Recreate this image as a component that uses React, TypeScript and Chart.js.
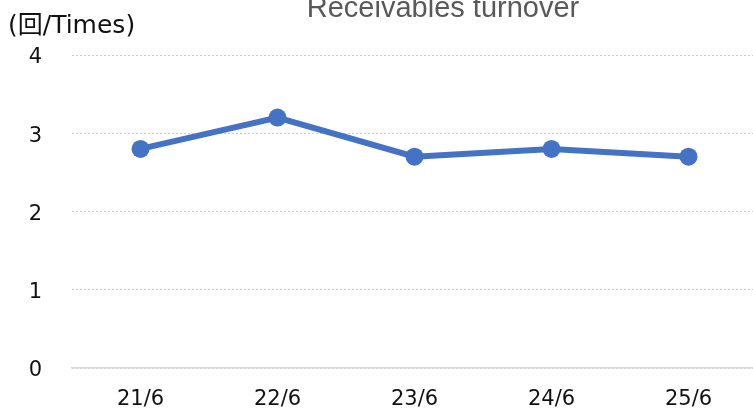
import React, { useEffect, useRef } from "react";
import { Chart, registerables } from "chart.js";

Chart.register(...registerables);

const categories = ["21/6", "22/6", "23/6", "24/6", "25/6"];
const turnover = [2.8, 3.2, 2.7, 2.8, 2.7];
const titleText = "Receivables turnover";
const unitLabel = "(回/Times)";
const yMin = 0;
const yMax = 4;
const yStep = 1;

const W = 757;
const H = 409;

const textPlugin = {
  id: "texts",
  afterDraw(chart: any) {
    const ctx = chart.ctx;
    ctx.save();
    ctx.fillStyle = "#595959";
    ctx.font = '29px "Liberation Sans", Arial, sans-serif';
    ctx.textAlign = "center";
    ctx.textBaseline = "alphabetic";
    ctx.fillText(titleText, 443, 17);
    ctx.fillStyle = "#111111";
    ctx.font = '25px "DejaVu Sans", "Noto Sans CJK JP", sans-serif';
    ctx.textAlign = "left";
    ctx.fillText(unitLabel, 8, 33);
    ctx.restore();
  },
};

export default function App() {
  const ref = useRef<HTMLCanvasElement | null>(null);
  useEffect(() => {
    document.body.style.margin = "0";
    document.body.style.overflow = "hidden";
    const chart = new Chart(ref.current as HTMLCanvasElement, {
      type: "line",
      data: {
        labels: categories,
        datasets: [
          {
            data: turnover,
            borderColor: "#4472C4",
            backgroundColor: "#4472C4",
            borderWidth: 6,
            pointRadius: 9,
            pointBackgroundColor: "#4472C4",
            pointBorderColor: "#4472C4",
            pointBorderWidth: 0,
            tension: 0,
            clip: false,
          },
        ],
      },
      options: {
        responsive: false,
        animation: false,
        devicePixelRatio: 1,
        layout: { autoPadding: false, padding: { top: 55, right: 0, bottom: 0, left: 0 } },
        plugins: { legend: { display: false }, title: { display: false }, tooltip: { enabled: false } },
        scales: {
          x: {
            offset: true,
            grid: { display: false, drawTicks: false },
            border: { display: true, color: "#d9d9d9", width: 1.5 },
            ticks: {
              color: "#111111",
              padding: 19,
              font: { family: '"DejaVu Sans", sans-serif', size: 21 },
            },
            afterFit: (s: any) => {
              s.height = 41;
              s.paddingLeft = 0;
              s.paddingRight = 0;
            },
          },
          y: {
            min: yMin,
            max: yMax,
            grid: { color: "#cccccc", lineWidth: 1, drawTicks: false },
            border: { display: false, dash: [2, 2] },
            ticks: {
              stepSize: yStep,
              color: "#111111",
              padding: 30,
              labelOffset: 3,
              font: { family: '"DejaVu Sans", sans-serif', size: 21 },
            },
            afterFit: (s: any) => {
              s.width = 72;
              s.paddingTop = 0;
              s.paddingBottom = 0;
            },
          },
        },
      },
      plugins: [textPlugin],
    });
    return () => chart.destroy();
  }, []);
  return (
    <div style={{ position: "fixed", left: 0, top: 0, width: W, height: H, background: "#fff" }}>
      <canvas ref={ref} width={W} height={H} style={{ width: W, height: H, display: "block" }} />
    </div>
  );
}
